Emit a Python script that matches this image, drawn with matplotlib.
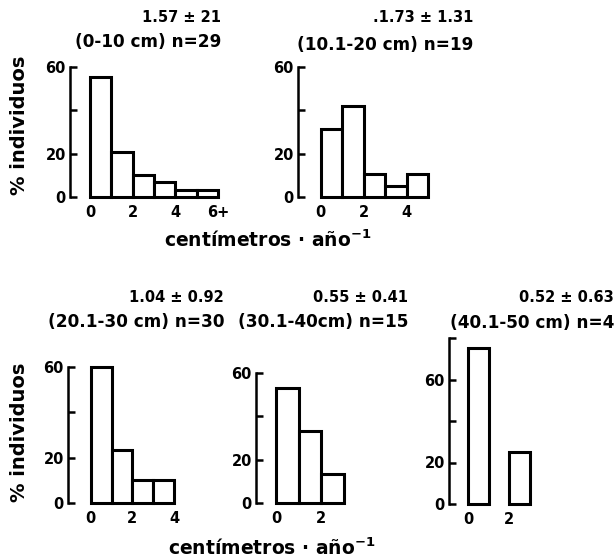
import numpy as np
import matplotlib
matplotlib.use("Agg")
import matplotlib.pyplot as plt

plt.rcParams['font.family'] = ['DejaVu Sans']
plt.rcParams['font.weight'] = 'bold'

# % individuos per class of growth (cm / year), one list per size class
pct_0_10 = [55.2, 20.7, 10.3, 6.9, 3.4, 3.4]
pct_10_20 = [31.6, 42.1, 10.5, 5.3, 10.5]
pct_20_30 = [60, 23.3, 10, 10]
pct_30_40 = [53.3, 33.3, 13.3]
pct_40_50 = [75, 0, 25]

means = ["1.57 ± 21", ".1.73 ± 1.31", "1.04 ± 0.92", "0.55 ± 0.41", "0.52 ± 0.63"]
classes = ["(0-10 cm) n=29", "(10.1-20 cm) n=19", "(20.1-30 cm) n=30",
           "(30.1-40cm) n=15", "(40.1-50 cm) n=4"]
xticks = [[0, 2, 4, 6], [0, 2, 4], [0, 2, 4], [0, 2], [0, 2]]
xticklabels = [["0", "2", "4", "6+"], ["0", "2", "4"], ["0", "2", "4"], ["0", "2"], ["0", "2"]]

W, H = 616, 560
fig = plt.figure(figsize=(W / 100, H / 100), dpi=100)


def px_axes(left, right, base, top):
    return fig.add_axes([left / W, 1 - base / H, (right - left) / W, (base - top) / H])


# (left spine px, right px, baseline px, top px, xmin, xmax, ymax)
boxes = [
    (70, 218, 197, 67, -0.94, 6, 60),
    (298, 428, 197, 67, -1.05, 5, 60),
    (68, 174, 503, 367, -1.09, 4, 60),
    (256, 344, 503, 373, -0.88, 3, 60),
    (449, 530, 504, 338, -0.92, 3, 80),
]
data = [pct_0_10, pct_10_20, pct_20_30, pct_30_40, pct_40_50]
title_pos = [(221, 18, 42), (473, 18, 45), (224, 298, 322), (408, 298, 322), (614, 298, 323)]

for i, (vals, box) in enumerate(zip(data, boxes)):
    left, right, base, top, x0, x1, ymax = box
    ax = px_axes(left, right, base, top)
    x = np.arange(len(vals))
    v = np.array(vals)
    keep = v > 0
    ax.bar(x[keep], v[keep], width=1, align='edge', facecolor='white',
           edgecolor='black', linewidth=2.2, clip_on=False)
    ax.set_xlim(x0, x1)
    ax.set_ylim(0, ymax)
    for s in ['top', 'right', 'bottom']:
        ax.spines[s].set_visible(False)
    ax.spines['left'].set_linewidth(1.8)
    yt = [0, 20, 40, 60] if ymax == 60 else [0, 20, 40, 60, 80]
    ax.set_yticks(yt)
    ax.set_yticklabels(['0', '20', '', '60', ''][:len(yt)], fontsize=10.5, fontweight='bold')
    ax.tick_params(axis='y', direction='in', length=5, width=1.8, pad=3)
    ax.set_xticks(xticks[i])
    ax.set_xticklabels(xticklabels[i], fontsize=10.5, fontweight='bold')
    ax.tick_params(axis='x', length=0, pad=6)
    ax.patch.set_alpha(0)

    tx, ty1, ty2 = title_pos[i]
    fig.text(tx / W, 1 - ty1 / H, means[i], ha='right', va='center',
             fontsize=10.5, fontweight='bold')
    fig.text(tx / W, 1 - ty2 / H, classes[i], ha='right', va='center',
             fontsize=12.2, fontweight='bold')

# axis titles
for yc in [125, 432]:
    fig.text(20 / W, 1 - yc / H, "% individuos", rotation=90, ha='center', va='center',
             fontsize=14, fontweight='bold')
for yc, xc in [(240, 268), (548, 272)]:
    fig.text(xc / W, 1 - yc / H, "centímetros · año$^{\\mathbf{-1}}$", ha='center', va='center',
             fontsize=13.5, fontweight='bold')

fig.savefig("out.png", dpi=100)
